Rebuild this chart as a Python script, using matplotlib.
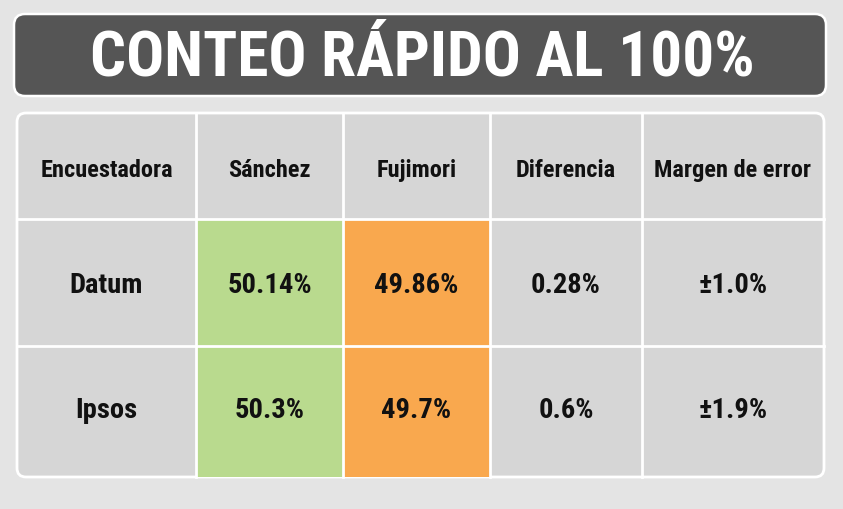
import matplotlib
matplotlib.use('Agg')
import matplotlib.pyplot as plt
from matplotlib.patches import FancyBboxPatch, Rectangle

title = 'CONTEO RÁPIDO AL 100%'
columns = ['Encuestadora', 'Sánchez', 'Fujimori', 'Diferencia', 'Margen de error']
pollsters = ['Datum', 'Ipsos']
sanchez = ['50.14%', '50.3%']
fujimori = ['49.86%', '49.7%']
diferencia = ['0.28%', '0.6%']
margen = ['±1.0%', '±1.9%']

BG = '#e4e4e4'
BANNER = '#555555'
CELL = '#d6d6d6'
GREEN = '#b9da8e'
ORANGE = '#f9a84e'
FONT = ['Roboto Condensed', 'DejaVu Sans']

W, H = 843, 510
fig = plt.figure(figsize=(W / 100, H / 100), dpi=100, facecolor=BG)
ax = fig.add_axes([0, 0, 1, 1])
ax.set_xlim(0, W)
ax.set_ylim(H, 0)
ax.axis('off')

# ── banner ──────────────────────────────────────────────────────────────
ax.add_patch(FancyBboxPatch((14, 15), 812, 82, boxstyle='round,pad=0,rounding_size=11',
                            facecolor=BANNER, edgecolor='white', linewidth=1.8))
ax.text(422, 59, title, color='white', fontsize=45.5, fontweight='bold',
        family=FONT, ha='center', va='center')

# ── table ───────────────────────────────────────────────────────────────
col_edges = [17, 196, 343, 490, 642, 824]
row_edges = [114, 220, 347, 478]
ax.add_patch(FancyBboxPatch((col_edges[0], row_edges[0]), col_edges[-1] - col_edges[0],
                            row_edges[-1] - row_edges[0],
                            boxstyle='round,pad=0,rounding_size=9',
                            facecolor=CELL, edgecolor='white', linewidth=2))

rows = [columns] + [list(r) for r in zip(pollsters, sanchez, fujimori, diferencia, margen)]
y_shift = [4, 2, -2]
for i, row in enumerate(rows):
    y0, y1 = row_edges[i], row_edges[i + 1]
    for j, val in enumerate(row):
        x0, x1 = col_edges[j], col_edges[j + 1]
        if i > 0 and j in (1, 2):
            ax.add_patch(Rectangle((x0, y0), x1 - x0, y1 - y0,
                                   facecolor=GREEN if j == 1 else ORANGE, edgecolor='none'))
        ax.text((x0 + x1) / 2, (y0 + y1) / 2 + y_shift[i], val, color='#111111',
                fontsize=17.6 if i == 0 else 20.5, fontweight='bold', family=FONT,
                ha='center', va='center')

# white separators
for x in col_edges[1:-1]:
    ax.plot([x, x], [row_edges[0], row_edges[-1]], color='white', lw=2)
for y in row_edges[1:-1]:
    ax.plot([col_edges[0], col_edges[-1]], [y, y], color='white', lw=2)

fig.savefig('out.png', dpi=100, facecolor=BG)
